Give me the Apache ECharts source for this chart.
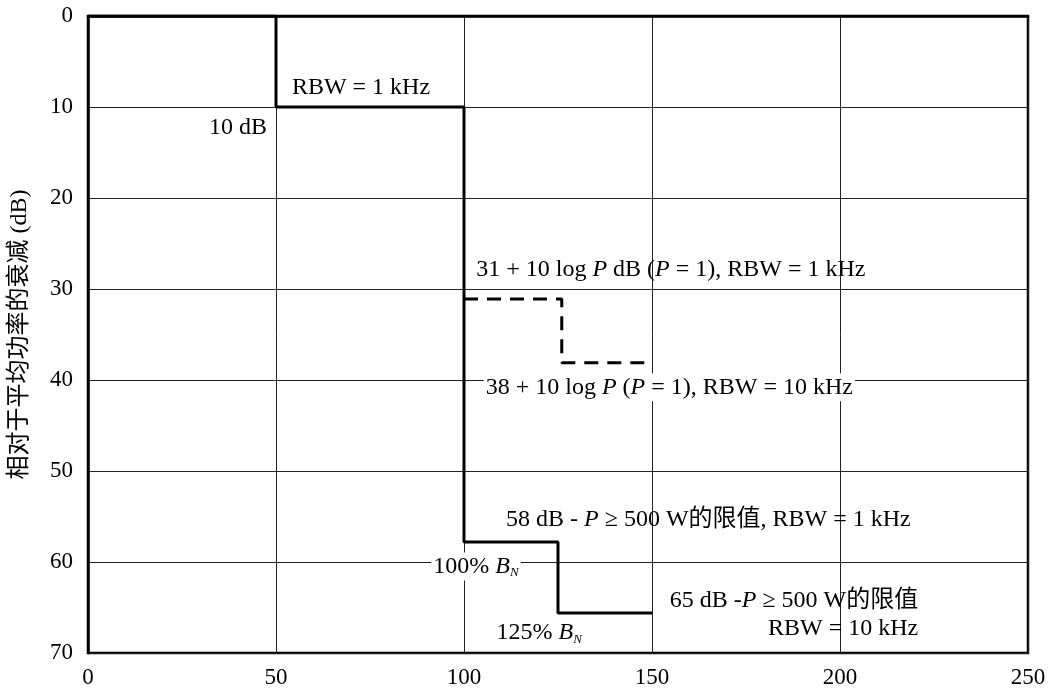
<!DOCTYPE html>
<html><head><meta charset="utf-8">
<script src="https://cdn.jsdelivr.net/npm/echarts@6/dist/echarts.min.js"></script>
<style>html,body{margin:0;padding:0;background:#fff}#c{width:1050px;height:691px}</style>
</head><body><div id="c"></div>
<script>
// Data
const xTicks = [0, 50, 100, 150, 200, 250];
const yTicks = [0, 10, 20, 30, 40, 50, 60, 70];
const solidX = [0, 50, 50, 100, 100, 125, 125, 150];
const solidY = [0, 0, 10, 10, 57.8, 57.8, 65.6, 65.6];
const dashX = [100, 126, 126, 150];
const dashY = [31.1, 31.1, 38.1, 38.1];
const yAxisName = '相对于平均功率的衰减 (dB)';
const annotationTexts = [
  'RBW = 1 kHz',
  '10 dB',
  '31 + 10 log {i|P} dB ({i|P} = 1), RBW = 1 kHz',
  '38 + 10 log {i|P} ({i|P} = 1), RBW = 10 kHz',
  '58 dB - {i|P} ≥ 500 W的限值, RBW = 1 kHz',
  '100% {i|B}{s|N}',
  '125% {i|B}{s|N}',
  '65 dB -{i|P} ≥ 500 W的限值\nRBW = 10 kHz'
];
// anchor positions in data coordinates (x, y), alignment, white background
const annotationAnchors = [
  [72.6, 7.9, 'center', false],
  [47.6, 12.3, 'right', false],
  [155, 27.9, 'center', false],
  [154.6, 40.8, 'center', true],
  [165, 55.4, 'center', false],
  [103.2, 60.5, 'center', true],
  [120, 67.8, 'center', false],
  [220.8, 65.8, 'right', false]
];

const FONT = "'Liberation Serif','Times New Roman','Noto Sans CJK SC',serif";
const FS = 24;
const TFS = 23;
const rich = {
  i: {fontStyle: 'italic', fontFamily: FONT, fontSize: FS, color: '#000'},
  s: {fontStyle: 'italic', fontFamily: FONT, fontSize: 13, color: '#000', padding: [13, 0, 0, 0]}
};

const zip = (a, b) => a.map((v, i) => [v, b[i]]);

const annData = annotationTexts.map((t, i) => {
  const a = annotationAnchors[i];
  return {
    value: [a[0], a[1]],
    label: {
      show: true, formatter: t, position: [0, 0], align: a[2], verticalAlign: 'middle',
      color: '#000', fontFamily: FONT, fontSize: FS, opacity: 1,
      backgroundColor: a[3] ? '#fff' : 'transparent', padding: a[3] ? [0, 2] : 0,
      lineHeight: 28
    }
  };
});

const chart = echarts.init(document.getElementById('c'), null, {renderer: 'canvas'});
chart.setOption({
  animation: false,
  backgroundColor: '#fff',
  grid: {left: 87, right: 22, top: 16, bottom: 38, show: true, borderColor: '#000', borderWidth: 2.5, backgroundColor: 'transparent'},
  xAxis: {
    type: 'value', min: xTicks[0], max: xTicks[xTicks.length - 1], interval: 50,
    axisLine: {show: true, lineStyle: {color: '#000', width: 2.5}},
    axisTick: {show: false},
    axisLabel: {color: '#000', fontFamily: FONT, fontSize: TFS, margin: 13},
    splitLine: {show: true, lineStyle: {color: '#222', width: 1}}
  },
  yAxis: {
    type: 'value', inverse: true, min: yTicks[0], max: yTicks[yTicks.length - 1], interval: 10,
    name: yAxisName, nameLocation: 'middle', nameGap: 56, nameRotate: 90,
    nameTextStyle: {color: '#000', fontFamily: "'Liberation Serif','Noto Sans CJK SC',serif", fontSize: 24},
    axisLine: {show: true, lineStyle: {color: '#000', width: 2.5}},
    axisTick: {show: false},
    axisLabel: {color: '#000', fontFamily: FONT, fontSize: TFS, margin: 15},
    splitLine: {show: true, lineStyle: {color: '#222', width: 1}}
  },
  series: [
    {type: 'line', data: zip(solidX, solidY), symbol: 'none', lineStyle: {color: '#000', width: 3}, z: 5},
    {type: 'line', data: zip(dashX, dashY), symbol: 'none', lineStyle: {color: '#000', width: 3, type: [14, 9]}, z: 5},
    {type: 'scatter', data: annData, symbolSize: 0, z: 10, emphasis: {disabled: true},
     itemStyle: {color: '#000', opacity: 1},
     label: {show: true, color: '#000', fontFamily: FONT, fontSize: FS, opacity: 1, rich: rich}}
  ]
});
</script></body></html>
